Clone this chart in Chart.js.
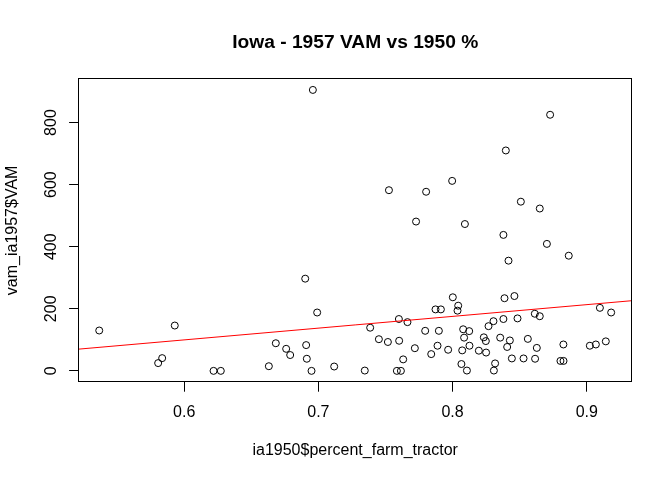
<!DOCTYPE html>
<html><head><meta charset="utf-8">
<script src="https://cdn.jsdelivr.net/npm/chart.js@4.4.0/dist/chart.umd.min.js"></script>
<style>html,body{margin:0;padding:0;background:#fff}canvas{display:block}</style>
</head><body>
<canvas id="c" width="672" height="480"></canvas>
<script>
// Data
const xValues = [0.5367,0.593,0.5836,0.5806,0.6219,0.6273,0.6902,0.6991,0.7386,0.760,
  0.7664,0.7873,0.7913,0.6683,0.676,0.679,0.6909,0.6914,0.6949,0.6631,
  0.7118,0.7346,0.7451,0.7518,0.7602,0.7719,0.7632,0.7585,0.7615,0.7796,
  0.7898,0.7888,0.7841,0.7967,0.6959,0.7526,0.7803,0.7728,0.8727,0.8397,
  0.7997,0.8509,0.865,0.8092,0.8379,0.8703,0.8866,0.8417,0.8002,0.8387,
  0.8461,0.8042,0.8037,0.9098,0.9182,0.8613,0.865,0.8484,0.8379,0.8305,
  0.8268,0.8079,0.8124,0.8086,0.8233,0.8248,0.8355,0.8427,0.8407,0.8561,
  0.8628,0.8826,0.9023,0.9068,0.9142,0.8072,0.8126,0.8196,0.825,0.8442,
  0.8529,0.8615,0.8804,0.8827,0.8066,0.8317,0.8107,0.8308];
const yValues = [130,146,41,25,0,0,297,188,139,167,
  157,198,198,89,71,51,83,39,0,15,
  14,1,102,93,97,73,37,0,0,129,
  129,81,54,68,905,582,577,481,825,710,
  612,545,523,473,438,409,371,355,237,234,
  241,210,194,203,188,184,176,169,167,160,
  144,134,128,107,108,96,107,98,77,103,
  74,85,81,85,95,66,81,65,59,40,
  40,39,32,32,22,24,1,1];
// fitted line endpoints (at the left and right edges of the plot)
const lineX = [0.5214, 0.9335];
const lineY = [70, 226];
const xTicks = [0.6, 0.7, 0.8, 0.9];
const yTicks = [0, 200, 400, 600, 800];
const xTickLabels = ["0.6", "0.7", "0.8", "0.9"];
const yTickLabels = ["0", "200", "400", "600", "800"];
const mainTitle = "Iowa - 1957 VAM vs 1950 %";
const xTitle = "ia1950$percent_farm_tractor";
const yTitle = "vam_ia1957$VAM";

const FONT = '"Liberation Sans", Arial, Helvetica, sans-serif';
const LH = 19.2;

const points = xValues.map((x, i) => ({x: x, y: yValues[i]}));
const linePts = lineX.map((x, i) => ({x: x, y: lineY[i]}));

const rPlot = {
  id: 'rplot',
  afterDraw(chart) {
    const ctx = chart.ctx;
    const a = chart.chartArea;
    const xs = chart.scales.x, ys = chart.scales.y;
    ctx.save();
    ctx.strokeStyle = '#000';
    ctx.lineWidth = 1;
    ctx.strokeRect(Math.round(a.left) - 0.5, Math.round(a.top) - 0.5,
      Math.round(a.right) - Math.round(a.left), Math.round(a.bottom) - Math.round(a.top));
    ctx.fillStyle = '#000';
    // x tick labels
    ctx.font = '16px ' + FONT;
    ctx.textAlign = 'center';
    ctx.textBaseline = 'alphabetic';
    xTicks.forEach((v, i) => {
      ctx.fillText(xTickLabels[i], xs.getPixelForValue(v), a.bottom + 1.8 * LH);
    });
    // x title
    ctx.fillText(xTitle, (a.left + a.right) / 2, a.bottom + 3.8 * LH);
    // y tick labels (rotated)
    yTicks.forEach((v, i) => {
      ctx.save();
      ctx.translate(a.left - 1.2 * LH, ys.getPixelForValue(v));
      ctx.rotate(-Math.PI / 2);
      ctx.fillText(yTickLabels[i], 0, 0);
      ctx.restore();
    });
    // y title
    ctx.save();
    ctx.translate(a.left - 3.2 * LH, (a.top + a.bottom) / 2);
    ctx.rotate(-Math.PI / 2);
    ctx.fillText(yTitle, 0, 0);
    ctx.restore();
    // main title
    ctx.font = 'bold 19.2px ' + FONT;
    ctx.fillText(mainTitle, (a.left + a.right) / 2, 48);
    ctx.restore();
  }
};

new Chart(document.getElementById('c'), {
  type: 'scatter',
  data: {
    datasets: [
      {
        type: 'line',
        data: linePts,
        borderColor: '#ff0000',
        borderWidth: 1,
        pointRadius: 0,
        fill: false,
        tension: 0
      },
      {
        data: points,
        pointStyle: 'circle',
        pointRadius: 3.5,
        pointBorderWidth: 1,
        borderColor: '#000',
        backgroundColor: 'rgba(0,0,0,0)',
        pointBackgroundColor: 'rgba(0,0,0,0)',
        pointBorderColor: '#000',
        pointHoverRadius: 3.5
      }
    ]
  },
  options: {
    responsive: false,
    animation: false,
    devicePixelRatio: 1,
    events: [],
    layout: {padding: {top: 78.7, right: 40.3, left: 0, bottom: 0}},
    plugins: {legend: {display: false}, title: {display: false}, tooltip: {enabled: false}},
    scales: {
      x: {
        type: 'linear',
        min: 0.5214,
        max: 0.9335,
        afterFit: s => { s.height = 97.9; },
        afterBuildTicks: s => { s.ticks = xTicks.map(v => ({value: v})); },
        grid: {drawOnChartArea: false, drawTicks: true, tickLength: 9.6, color: '#000', lineWidth: 1},
        border: {display: false},
        ticks: {display: false}
      },
      y: {
        type: 'linear',
        min: -36.2,
        max: 941.2,
        afterFit: s => { s.width = 78.7; },
        afterBuildTicks: s => { s.ticks = yTicks.map(v => ({value: v})); },
        grid: {drawOnChartArea: false, drawTicks: true, tickLength: 9.6, color: '#000', lineWidth: 1},
        border: {display: false},
        ticks: {display: false}
      }
    }
  },
  plugins: [rPlot]
});
</script>
</body></html>
